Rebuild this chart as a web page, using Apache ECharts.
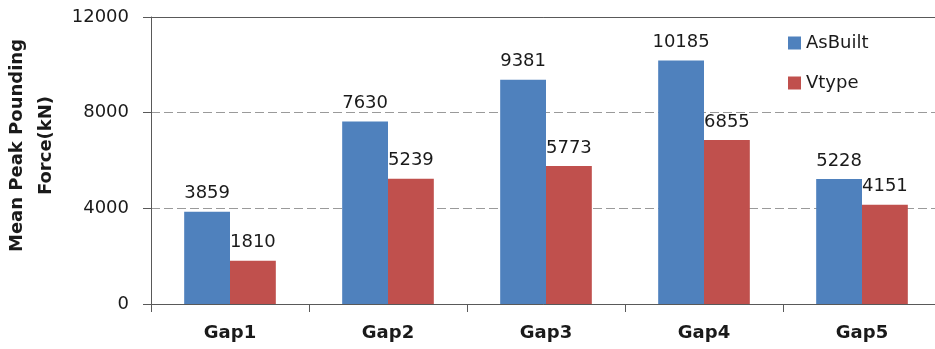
<!DOCTYPE html>
<html>
<head>
<meta charset="utf-8">
<script src="https://cdn.jsdelivr.net/npm/echarts@6/dist/echarts.min.js"></script>
<style>
  html, body { margin: 0; padding: 0; background: #ffffff; }
  #chart { width: 935px; height: 349px; }
</style>
</head>
<body>
<div id="chart"></div>
<script>
// Mean peak pounding force per gap, two structural configurations
const categories = ['Gap1', 'Gap2', 'Gap3', 'Gap4', 'Gap5'];
const asBuilt = [3859, 7630, 9381, 10185, 5228];
const vType = [1810, 5239, 5773, 6855, 4151];
const seriesNames = ['AsBuilt', 'Vtype'];
const yTicks = [0, 4000, 8000, 12000];

const FONT = 'DejaVu Sans';
const AXIS_COLOR = '#595959';

const chart = echarts.init(document.getElementById('chart'), null, { renderer: 'canvas' });

const labelStyle = {
  show: true,
  position: 'top',
  distance: 9,
  fontFamily: FONT,
  fontSize: 18,
  color: '#1a1a1a'
};

chart.setOption({
  animation: false,
  backgroundColor: '#ffffff',
  grid: { left: 151, right: -6, top: 17, bottom: 45, containLabel: false, outerBoundsMode: 'none' },
  legend: {
    orient: 'vertical',
    left: 783,
    top: 29,
    itemWidth: 13,
    itemHeight: 13,
    itemGap: 22,
    icon: 'rect',
    data: seriesNames,
    textStyle: { fontFamily: FONT, fontSize: 18, color: '#1a1a1a', lineHeight: 18 }
  },
  xAxis: [
    {
      type: 'category',
      data: categories,
      axisLine: { lineStyle: { color: AXIS_COLOR, width: 1 } },
      axisTick: { show: true, length: 8, alignWithLabel: false, lineStyle: { color: AXIS_COLOR } },
      axisLabel: { margin: 20, fontFamily: FONT, fontSize: 18, fontWeight: 'bold', color: '#1a1a1a' },
      splitLine: { show: false }
    },
    {
      // top border of the plot area
      type: 'category',
      data: categories,
      position: 'top',
      axisLine: { lineStyle: { color: AXIS_COLOR, width: 1 } },
      axisTick: { show: false },
      axisLabel: { show: false },
      splitLine: { show: false }
    }
  ],
  yAxis: {
    type: 'value',
    min: yTicks[0],
    max: yTicks[yTicks.length - 1],
    interval: yTicks[1] - yTicks[0],
    name: 'Mean Peak Pounding\nForce(kN)',
    nameLocation: 'middle',
    nameGap: 83,
    nameTextStyle: {
      fontFamily: FONT,
      fontSize: 18,
      fontWeight: 'bold',
      color: '#1a1a1a',
      lineHeight: 29,
      align: 'center',
      padding: [0, 0, 0, 30]
    },
    axisLine: { show: true, lineStyle: { color: AXIS_COLOR, width: 1 } },
    axisTick: { show: true, length: 8, lineStyle: { color: AXIS_COLOR } },
    axisLabel: {
      margin: 22,
      fontFamily: FONT,
      fontSize: 18,
      color: '#1a1a1a',
      formatter: (v) => String(v)
    },
    splitLine: { show: true, lineStyle: { color: '#9a9a9a', type: [9, 4], width: 1 } }
  },
  series: [
    {
      name: seriesNames[0],
      type: 'bar',
      data: asBuilt,
      barGap: '0%',
      barCategoryGap: '42%',
      itemStyle: { color: '#4F81BD' },
      label: labelStyle
    },
    {
      name: seriesNames[1],
      type: 'bar',
      data: vType,
      barGap: '0%',
      barCategoryGap: '42%',
      itemStyle: { color: '#C0504D' },
      label: labelStyle
    }
  ]
});
</script>
</body>
</html>
